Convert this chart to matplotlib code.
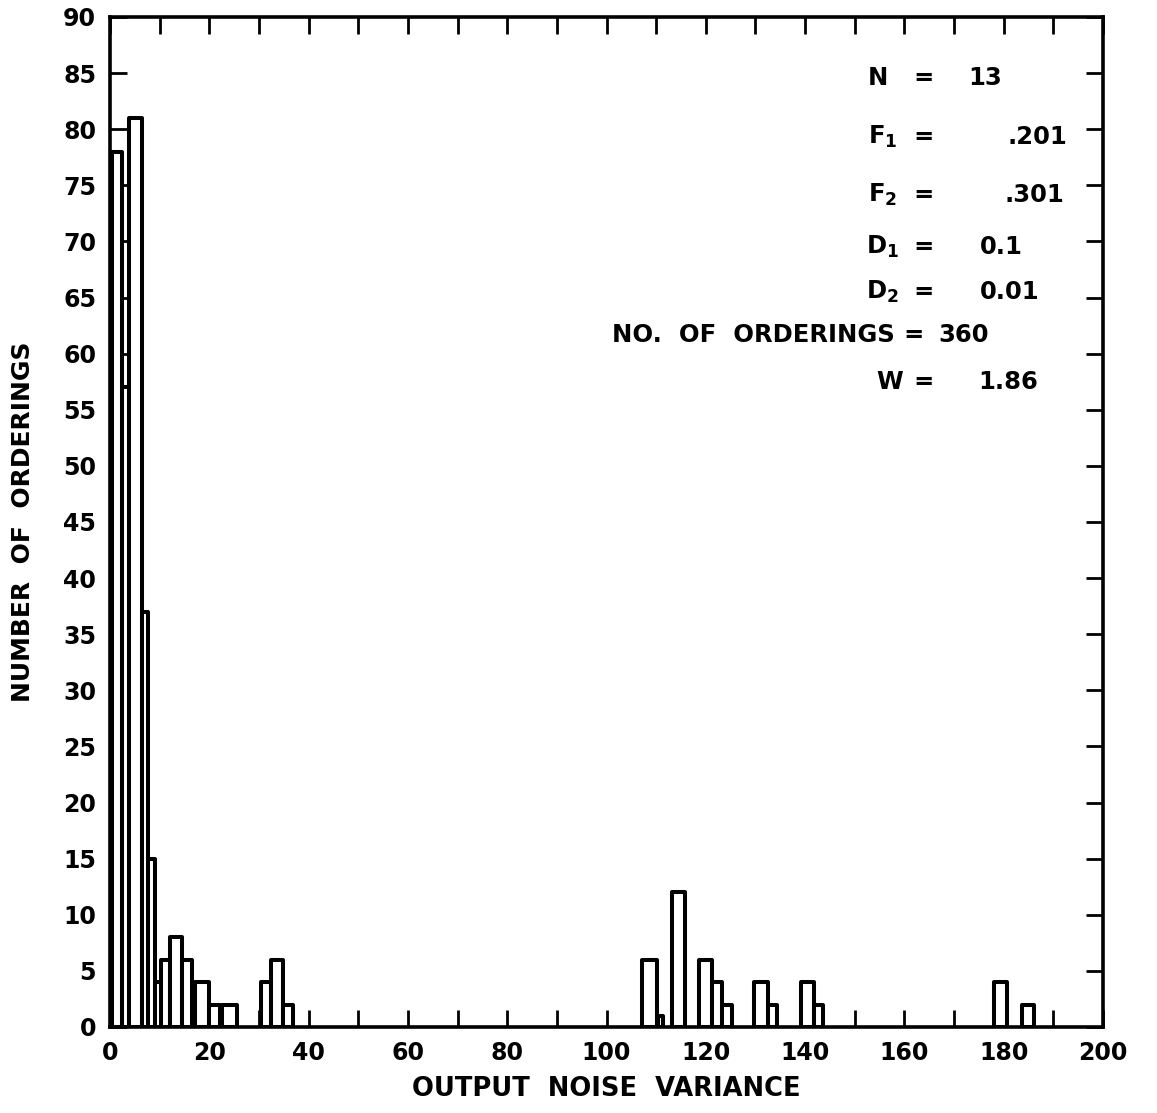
import numpy as np
import matplotlib.pyplot as plt

# histogram: left edge, right edge, count
izq = [0.4, 2.4, 3.8, 6.4, 7.6, 9.1, 10.2, 12.1, 14.5, 17.1, 19.9, 22.6,
       30.4, 32.4, 34.8,
       107.2, 110.4, 113.1, 118.6, 121.3, 123.2, 129.7, 132.6, 139.1, 141.8,
       178.0, 183.6]
der = [2.4, 3.8, 6.4, 7.6, 9.1, 10.2, 12.1, 14.5, 16.5, 19.9, 22.2, 25.6,
       32.4, 34.8, 36.9,
       110.2, 111.3, 115.8, 121.3, 123.2, 125.2, 132.6, 134.4, 141.8, 143.6,
       180.6, 186.2]
cuenta = [78, 57, 81, 37, 15, 4, 6, 8, 6, 4, 2, 2,
          4, 6, 2,
          6, 1, 12, 6, 4, 2, 4, 2, 4, 2,
          4, 2]

x_ticks = np.arange(0, 201, 10)
x_labels = [str(v) if v % 20 == 0 else '' for v in x_ticks]
y_ticks = np.arange(0, 91, 5)

W, H = 1157, 1113
fig = plt.figure(figsize=(W/100, H/100), dpi=100)
ax = fig.add_axes([110/W, 1 - 1027/H, (1103 - 110)/W, (1027 - 17)/H])

izq = np.array(izq)
der = np.array(der)
ax.bar(izq, cuenta, width=der - izq, align='edge', facecolor='white',
       edgecolor='black', linewidth=2.9, joinstyle='round', zorder=2)

ax.set_xlim(0, 200)
ax.set_ylim(0, 90)
ax.set_xticks(x_ticks)
ax.set_xticklabels(x_labels)
ax.set_yticks(y_ticks)
ax.tick_params(direction='in', top=True, right=True, length=12, width=2,
               labelsize=17, pad=10)
for lab in ax.get_xticklabels() + ax.get_yticklabels():
    lab.set_fontweight('bold')
for s in ax.spines.values():
    s.set_linewidth(2.6)

ax.set_xlabel('OUTPUT  NOISE  VARIANCE', fontsize=18.5, fontweight='bold',
              labelpad=8)
ax.set_ylabel('NUMBER  OF  ORDERINGS', fontsize=18, fontweight='bold',
              labelpad=20)

# cuadro de parametros (pixel coords -> figure fraction)
def txt(x, y, s, ha='left'):
    fig.text(x/W, 1 - y/H, s, ha=ha, va='center', fontsize=17.5,
             fontweight='bold')

txt(868, 78, 'N')
txt(913, 78, '=')
txt(968, 78, '13')
txt(868, 137, r'$\mathbf{F}_\mathbf{1}$')
txt(913, 137, '=')
txt(1067, 137, '.201', ha='right')
txt(868, 195, r'$\mathbf{F}_\mathbf{2}$')
txt(913, 195, '=')
txt(1064, 195, '.301', ha='right')
txt(866, 247, r'$\mathbf{D}_\mathbf{1}$')
txt(913, 247, '=')
txt(980, 247, '0.1')
txt(866, 292, r'$\mathbf{D}_\mathbf{2}$')
txt(913, 292, '=')
txt(980, 292, '0.01')
txt(895, 335, 'NO.  OF  ORDERINGS', ha='right')
txt(903, 335, '=')
txt(938, 335, '360')
txt(876, 382, 'W')
txt(913, 382, '=')
txt(978, 382, '1.86')

fig.savefig('out.png', dpi=100)
